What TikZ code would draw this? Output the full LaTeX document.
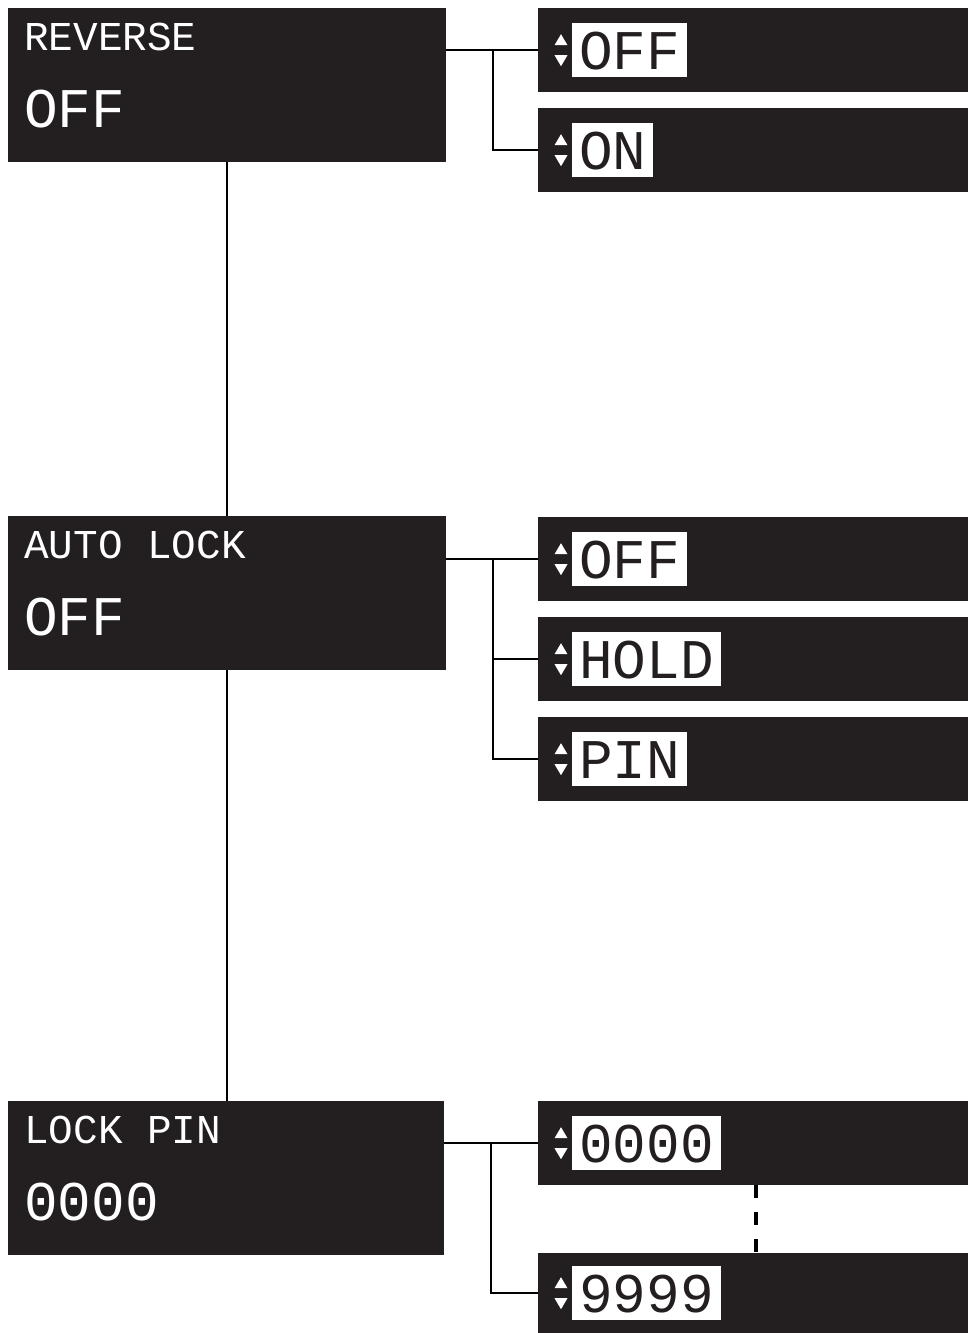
\documentclass[tikz,border=0pt]{standalone}
\usepackage{fontspec}
\setmonofont{Liberation Mono}
\definecolor{panel}{RGB}{35,31,32}
\tikzset{
  mainbox/.style={fill=panel, draw=none, anchor=north west, minimum width=438pt, minimum height=154pt, inner sep=0pt},
  optbox/.style={fill=panel, draw=none, anchor=north west, minimum width=430pt, minimum height=84pt, inner sep=0pt},
  titletext/.style={text=white, anchor=base west, inner sep=0pt, font=\ttfamily\fontsize{41}{41}\selectfont},
  valtext/.style={text=white, anchor=base west, inner sep=0pt, font=\ttfamily\fontsize{56}{56}\selectfont},
  optlabel/.style={fill=white, text=panel, anchor=west, inner xsep=7pt, inner ysep=8pt, text height=38pt, text depth=0pt, font=\ttfamily\fontsize{56}{56}\selectfont},
  link/.style={draw=black, line width=2.3pt},
  dashlink/.style={draw=black, line width=3.5pt, dash pattern=on 13pt off 14pt},
}
\newcommand{\updown}[1]{%
  \fill[white] ($(#1.west)+(16.5,-5)$) -- ($(#1.west)+(29.5,-5)$) -- ($(#1.west)+(23,-16)$) -- cycle;
  \fill[white] ($(#1.west)+(16.5,5)$) -- ($(#1.west)+(29.5,5)$) -- ($(#1.west)+(23,16)$) -- cycle;
}
\usetikzlibrary{calc}
\begin{document}
\begin{tikzpicture}[x=1pt,y=-1pt]
\useasboundingbox (0,0) rectangle (968,1333);
\fill[white] (0,0) rectangle (968,1333);

% main boxes
\node[mainbox] (rev) at (8,8) {};
\node[titletext] (revt) at (24,50) {REVERSE};
\node[valtext] (revv) at (24,127) {OFF};

\node[mainbox] (al) at (8,516) {};
\node[titletext] (alt) at (24,558) {AUTO LOCK};
\node[valtext] (alv) at (24,635) {OFF};

\node[mainbox, minimum width=436pt] (lp) at (8,1101) {};
\node[titletext] (lpt) at (24,1143) {LOCK PIN};
\node[valtext] (lpv) at (24,1220) {0000};

% option boxes
\node[optbox] (r1) at (538,8) {};
\node[optbox] (r2) at (538,108) {};
\node[optbox] (a1) at (538,517) {};
\node[optbox] (a2) at (538,617) {};
\node[optbox] (a3) at (538,717) {};
\node[optbox] (p1) at (538,1101) {};
\node[optbox, minimum height=80pt] (p2) at (538,1253) {};

\node[optlabel] (r1l) at ($(r1.west)+(34,0)$) {OFF};
\node[optlabel] (r2l) at ($(r2.west)+(34,0)$) {ON};
\node[optlabel] (a1l) at ($(a1.west)+(34,0)$) {OFF};
\node[optlabel] (a2l) at ($(a2.west)+(34,0)$) {HOLD};
\node[optlabel] (a3l) at ($(a3.west)+(34,0)$) {PIN};
\node[optlabel] (p1l) at ($(p1.west)+(34,0)$) {0000};
\node[optlabel] (p2l) at ($(p2.west)+(34,0)$) {9999};

\updown{r1}\updown{r2}\updown{a1}\updown{a2}\updown{a3}\updown{p1}\updown{p2}

% junction coordinates
\coordinate (jr) at (493,0);
\coordinate (ja) at (493,0);
\coordinate (jp) at (491,0);
\coordinate (dx) at (756,0);

% main spine
\draw[link] (rev.south) -- (al.north);
\draw[link] (al.south) -- (al.south |- lp.north);

% REVERSE branches
\draw[link] (rev.east |- r1.west) -- (r1.west);
\draw[link] (jr |- r1.west) -- (jr |- r2.west) -- (r2.west);

% AUTO LOCK branches
\draw[link] (al.east |- a1.west) -- (a1.west);
\draw[link] (ja |- a1.west) -- (ja |- a3.west) -- (a3.west);
\draw[link] (ja |- a2.west) -- (a2.west);

% LOCK PIN branches
\draw[link] (lp.east |- p1.west) -- (p1.west);
\draw[link] (jp |- p1.west) -- (jp |- p2.west) -- (p2.west);

% range dashed line
\draw[dashlink] (dx |- p1.south) -- (dx |- p2.north);
\end{tikzpicture}
\end{document}
